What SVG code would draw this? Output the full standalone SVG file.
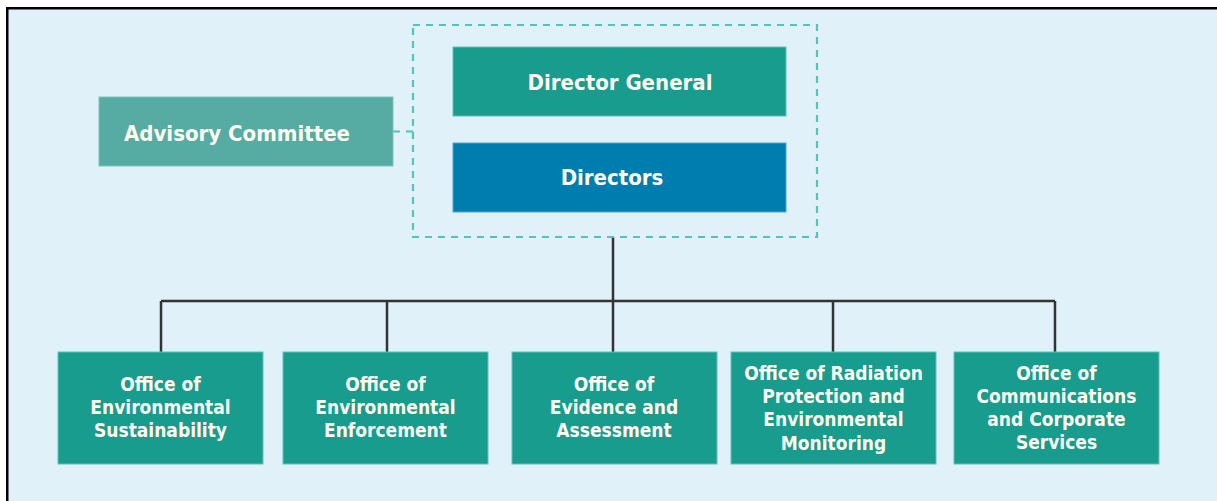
<svg xmlns="http://www.w3.org/2000/svg" width="1217" height="501" viewBox="0 0 1217 501">
<style>
.bg{fill:#E1F1FA}
.frame{fill:none;stroke:#000;stroke-width:2.5}
.box{fill:#179C8E;stroke:#5FC3B8;stroke-width:1}
.dirs{fill:#007DAF;stroke:#4FA8CC;stroke-width:1}
.adv{fill:#56ACA3;stroke:#7CC4BC;stroke-width:1}
.dash{fill:none;stroke:#55C3B7;stroke-width:2.2;stroke-dasharray:7 6}
.line{fill:none;stroke:#333;stroke-width:2.5}
text{font-family:"DejaVu Sans Condensed","DejaVu Sans",sans-serif;font-weight:bold;fill:#FFFBEE;text-anchor:middle}
.big{font-size:22px}
.sm{font-size:19px}
</style>
<rect x="0" y="0" width="1217" height="501" fill="#fff"/>
<rect class="bg" x="7" y="8" width="1210" height="493"/>
<path class="frame" d="M7.25 501 V8.25 H1217"/>
<g id="connectors">
<path class="dash" d="M393 131.5 H413"/>
<path class="line" d="M613 237 V301 M161 301 H1055 M161 301 V352 M387 301 V352 M613 301 V352 M833 301 V352 M1055 301 V352"/>
</g>
<g id="leadership">
<rect class="dash" x="413" y="25" width="404" height="212"/>
</g>
<g id="director-general">
<rect class="box" x="453" y="47" width="333" height="69"/>
<text class="big" x="620" y="89.5">Director General</text>
</g>
<g id="directors">
<rect class="dirs" x="453" y="143" width="333" height="69"/>
<text class="big" x="612" y="185">Directors</text>
</g>
<g id="advisory-committee">
<rect class="adv" x="99" y="97" width="294" height="69"/>
<text class="big" x="237" y="140.5">Advisory Committee</text>
</g>
<g id="office-sustainability">
<rect class="box" x="58" y="352" width="205" height="112"/>
<text class="sm" x="160.5" y="390.5">Office of</text>
<text class="sm" x="160.5" y="413.5">Environmental</text>
<text class="sm" x="160.5" y="436.5">Sustainability</text>
</g>
<g id="office-enforcement">
<rect class="box" x="283" y="352" width="205" height="112"/>
<text class="sm" x="385.5" y="390.5">Office of</text>
<text class="sm" x="385.5" y="413.5">Environmental</text>
<text class="sm" x="385.5" y="436.5">Enforcement</text>
</g>
<g id="office-evidence">
<rect class="box" x="512" y="352" width="205" height="112"/>
<text class="sm" x="614" y="390.5">Office of</text>
<text class="sm" x="614" y="413.5">Evidence and</text>
<text class="sm" x="614" y="436.5">Assessment</text>
</g>
<g id="office-radiation">
<rect class="box" x="731" y="352" width="205" height="112"/>
<text class="sm" x="833.5" y="379.5">Office of Radiation</text>
<text class="sm" x="833.5" y="402.5">Protection and</text>
<text class="sm" x="833.5" y="425.5">Environmental</text>
<text class="sm" x="833.5" y="449.5">Monitoring</text>
</g>
<g id="office-communications">
<rect class="box" x="954" y="352" width="205" height="112"/>
<text class="sm" x="1056.5" y="379.5">Office of</text>
<text class="sm" x="1056.5" y="402.5">Communications</text>
<text class="sm" x="1056.5" y="425.5">and Corporate</text>
<text class="sm" x="1056.5" y="448.5">Services</text>
</g>
</svg>
